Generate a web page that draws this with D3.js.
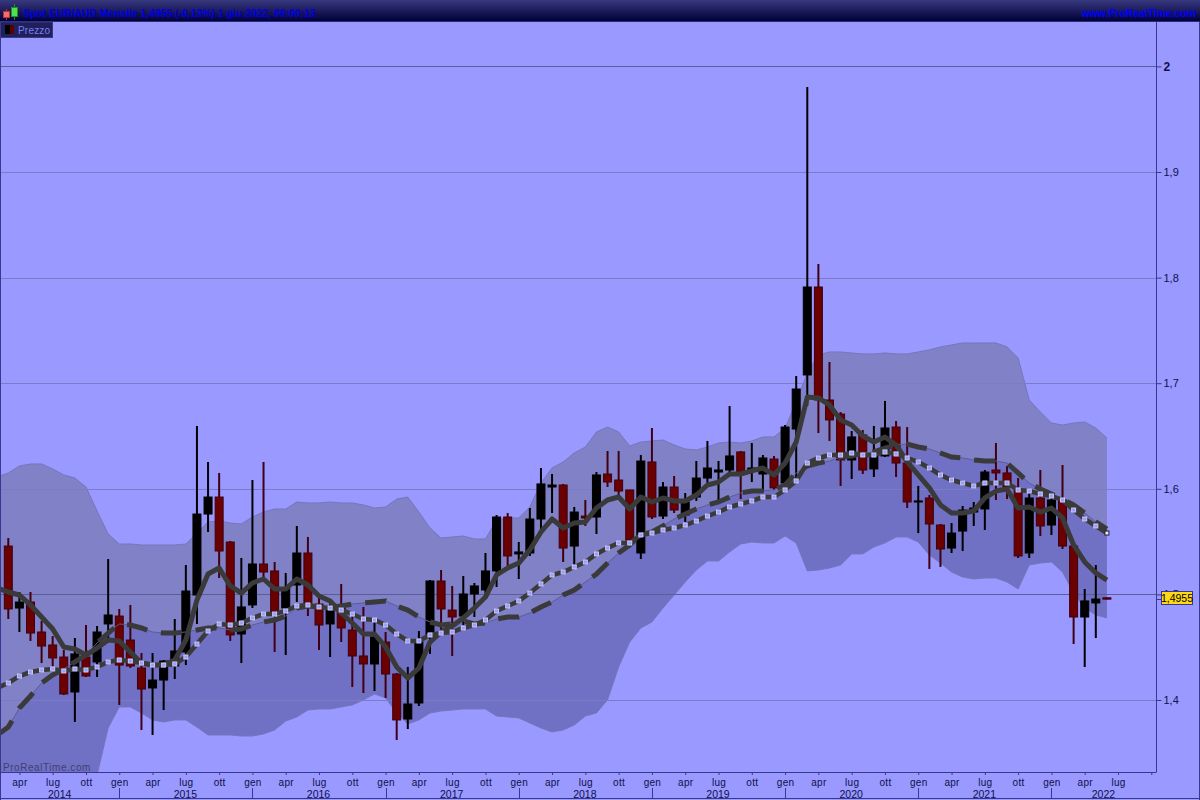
<!DOCTYPE html>
<html lang="en">

<head>
    <meta charset="UTF-8">
    <title>Spot EUR/AUD Mensile</title>
    <style>
        html, body { margin: 0; padding: 0; background: #9999ff; }
        svg { display: block; font-family: "Liberation Sans", Arial, sans-serif; }
    </style>
    <script src="https://cdn.jsdelivr.net/npm/d3@7"></script>
</head>

<body>
    <div id="chart"></div>
    <script>
        // monthly candles, Mar 2014 - Jun 2022
        const open = [1.5458,1.4871,1.4928,1.4644,1.4521,1.4407,1.4076,1.4407,1.4360,1.4720,1.4795,1.4568,1.4303,1.4114,1.4189,1.4322,1.4455,1.4994,1.5761,1.5922,1.5496,1.4625,1.4900,1.5288,1.5222,1.4871,1.5089,1.5392,1.4909,1.4720,1.4871,1.4663,1.4417,1.4341,1.4549,1.4246,1.3820,1.3972,1.4597,1.5127,1.4852,1.4795,1.5004,1.5042,1.5222,1.5733,1.5383,1.5392,1.5714,1.6017,1.6036,1.5458,1.5742,1.5733,1.6140,1.6083,1.5989,1.5392,1.6254,1.5742,1.6017,1.5752,1.5922,1.6102,1.6159,1.6178,1.6349,1.6178,1.6140,1.6282,1.6055,1.6566,1.7078,1.7911,1.6841,1.6708,1.6273,1.6510,1.6188,1.6311,1.6585,1.6244,1.5875,1.5913,1.5657,1.5439,1.5600,1.5780,1.5809,1.6178,1.6150,1.5989,1.5392,1.5913,1.5657,1.5894,1.5458,1.4786,1.4919,1.4968];
        const high = [1.5534,1.5023,1.5023,1.4748,1.4606,1.4474,1.4587,1.4710,1.4701,1.5335,1.4862,1.4900,1.4445,1.4445,1.4379,1.4767,1.5278,1.6595,1.6254,1.6150,1.5506,1.5345,1.6083,1.6254,1.5307,1.5203,1.5648,1.5544,1.4985,1.4909,1.5099,1.4824,1.4881,1.4739,1.4644,1.4256,1.4313,1.4653,1.5136,1.5231,1.5080,1.5174,1.5108,1.5392,1.5752,1.5771,1.5496,1.5818,1.6197,1.6140,1.6046,1.5828,1.5894,1.6159,1.6358,1.6358,1.5989,1.6320,1.6576,1.6064,1.6121,1.5960,1.6263,1.6453,1.6263,1.6784,1.6358,1.6434,1.6320,1.6311,1.6604,1.7068,1.9805,1.8129,1.7201,1.6727,1.6547,1.6557,1.6595,1.6832,1.6642,1.6585,1.6027,1.5941,1.5667,1.5676,1.5837,1.5875,1.6178,1.6434,1.6216,1.6102,1.5979,1.6178,1.5951,1.6225,1.5458,1.5051,1.5278,1.4968];
        const low = [1.4767,1.4644,1.4559,1.4350,1.4313,1.4047,1.3792,1.4218,1.4218,1.4568,1.3953,1.4303,1.3716,1.3669,1.3905,1.4199,1.4331,1.4720,1.5591,1.5155,1.4559,1.4350,1.4871,1.5155,1.4455,1.4426,1.4928,1.4795,1.4474,1.4407,1.4549,1.4123,1.4066,1.4085,1.4019,1.3621,1.3725,1.3943,1.4436,1.4663,1.4417,1.4710,1.4786,1.4994,1.5070,1.5269,1.5146,1.5364,1.5610,1.5771,1.5307,1.5278,1.5648,1.5572,1.6017,1.5922,1.5506,1.5335,1.5714,1.5714,1.5771,1.5686,1.5885,1.6055,1.5885,1.6131,1.5903,1.6064,1.5970,1.5989,1.6008,1.6064,1.6784,1.6528,1.6453,1.6027,1.6093,1.6140,1.6112,1.6301,1.6112,1.5818,1.5581,1.5241,1.5260,1.5392,1.5411,1.5648,1.5610,1.5894,1.5903,1.5345,1.5345,1.5553,1.5563,1.5430,1.4530,1.4313,1.4587,1.4955];
        const close = [1.4862,1.4928,1.4634,1.4511,1.4398,1.4057,1.4436,1.4227,1.4644,1.4805,1.4331,1.4322,1.4104,1.4189,1.4369,1.4464,1.5032,1.5761,1.5922,1.5411,1.4616,1.4881,1.5288,1.5212,1.4833,1.5061,1.5392,1.4900,1.4710,1.4852,1.4682,1.4417,1.4341,1.4597,1.4246,1.3811,1.3962,1.4549,1.5127,1.4862,1.4786,1.5004,1.5080,1.5222,1.5733,1.5364,1.5402,1.5714,1.6046,1.6036,1.5439,1.5780,1.5723,1.6131,1.6064,1.5979,1.5515,1.6263,1.5733,1.6017,1.5799,1.5875,1.6102,1.6197,1.6178,1.6311,1.6159,1.6197,1.6292,1.6008,1.6585,1.6945,1.7911,1.6841,1.6652,1.6273,1.6491,1.6178,1.6320,1.6576,1.6244,1.5875,1.5885,1.5667,1.5430,1.5581,1.5799,1.5818,1.6159,1.6150,1.6017,1.5364,1.5913,1.5648,1.5894,1.5458,1.4786,1.4938,1.4956,1.4955];

        // indicators, Feb 2014 - Jun 2022 (first point sits just off the left edge)
        const fastAvg = [1.5061,1.5023,1.4994,1.4900,1.4786,1.4672,1.4502,1.4483,1.4426,1.4492,1.4568,1.4559,1.4455,1.4350,1.4331,1.4331,1.4379,1.4568,1.4947,1.5193,1.5250,1.5080,1.5013,1.5108,1.5146,1.5051,1.5051,1.5146,1.5089,1.4985,1.4938,1.4824,1.4729,1.4625,1.4625,1.4502,1.4313,1.4208,1.4303,1.4549,1.4644,1.4701,1.4777,1.4871,1.4975,1.5184,1.5250,1.5297,1.5421,1.5591,1.5714,1.5629,1.5676,1.5686,1.5818,1.5894,1.5922,1.5809,1.5922,1.5875,1.5913,1.5885,1.5885,1.5941,1.6036,1.6064,1.6140,1.6140,1.6169,1.6197,1.6131,1.6244,1.6443,1.6869,1.6860,1.6794,1.6652,1.6604,1.6500,1.6443,1.6491,1.6415,1.6254,1.6131,1.6008,1.5847,1.5771,1.5771,1.5790,1.5913,1.5979,1.5998,1.5818,1.5828,1.5780,1.5818,1.5724,1.5468,1.5307,1.5203,1.5136];
        const squareAvg = [1.4114,1.4161,1.4227,1.4265,1.4284,1.4294,1.4275,1.4294,1.4284,1.4313,1.4360,1.4379,1.4369,1.4350,1.4331,1.4331,1.4341,1.4407,1.4530,1.4653,1.4720,1.4710,1.4729,1.4777,1.4814,1.4814,1.4843,1.4890,1.4900,1.4881,1.4871,1.4852,1.4814,1.4767,1.4758,1.4710,1.4625,1.4559,1.4559,1.4616,1.4634,1.4644,1.4682,1.4710,1.4758,1.4843,1.4890,1.4938,1.5013,1.5099,1.5184,1.5212,1.5260,1.5307,1.5383,1.5439,1.5487,1.5487,1.5563,1.5581,1.5610,1.5629,1.5657,1.5695,1.5742,1.5780,1.5828,1.5856,1.5885,1.5922,1.5922,1.5989,1.6074,1.6244,1.6292,1.6320,1.6320,1.6339,1.6320,1.6320,1.6349,1.6330,1.6292,1.6254,1.6197,1.6131,1.6083,1.6055,1.6027,1.6055,1.6055,1.6055,1.5989,1.5979,1.5951,1.5932,1.5894,1.5799,1.5714,1.5648,1.5581];
        const slowAvg = [1.3669,1.3744,1.3924,1.4038,1.4161,1.4237,1.4294,1.4360,1.4426,1.4540,1.4634,1.4720,1.4710,1.4682,1.4644,1.4634,1.4634,1.4644,1.4663,1.4682,1.4682,1.4663,1.4672,1.4710,1.4739,1.4758,1.4795,1.4871,1.4890,1.4881,1.4881,1.4890,1.4909,1.4919,1.4928,1.4938,1.4890,1.4852,1.4786,1.4739,1.4710,1.4720,1.4748,1.4720,1.4729,1.4767,1.4786,1.4786,1.4824,1.4881,1.4928,1.4994,1.5042,1.5117,1.5193,1.5297,1.5392,1.5468,1.5563,1.5591,1.5648,1.5714,1.5761,1.5809,1.5847,1.5875,1.5922,1.5960,1.5979,1.5979,1.5989,1.6036,1.6150,1.6216,1.6244,1.6263,1.6301,1.6311,1.6339,1.6349,1.6386,1.6415,1.6424,1.6396,1.6377,1.6339,1.6301,1.6292,1.6273,1.6263,1.6263,1.6244,1.6150,1.6055,1.5998,1.5951,1.5903,1.5847,1.5771,1.5686,1.5619];
        const upperBand = [1.6112,1.6150,1.6216,1.6235,1.6235,1.6188,1.6131,1.6102,1.6017,1.5790,1.5572,1.5477,1.5477,1.5468,1.5468,1.5468,1.5468,1.5477,1.5581,1.5686,1.5695,1.5676,1.5667,1.5733,1.5780,1.5809,1.5809,1.5875,1.5866,1.5866,1.5875,1.5866,1.5866,1.5847,1.5818,1.5828,1.5903,1.5922,1.5780,1.5629,1.5534,1.5544,1.5553,1.5525,1.5525,1.5705,1.5724,1.5724,1.5828,1.6055,1.6197,1.6254,1.6339,1.6396,1.6538,1.6585,1.6538,1.6405,1.6443,1.6453,1.6462,1.6415,1.6377,1.6368,1.6396,1.6434,1.6443,1.6434,1.6453,1.6491,1.6491,1.6576,1.6822,1.7097,1.7267,1.7296,1.7296,1.7286,1.7277,1.7277,1.7286,1.7277,1.7277,1.7296,1.7315,1.7343,1.7362,1.7381,1.7381,1.7381,1.7381,1.7343,1.7239,1.6841,1.6727,1.6623,1.6604,1.6623,1.6633,1.6576,1.6481];
        const lowerBand = [1.1225,1.1339,1.1632,1.1841,1.2087,1.2286,1.2456,1.2617,1.2835,1.3290,1.3735,1.3934,1.3934,1.3877,1.3811,1.3792,1.3811,1.3811,1.3744,1.3669,1.3669,1.3669,1.3659,1.3659,1.3678,1.3716,1.3801,1.3839,1.3905,1.3915,1.3915,1.3934,1.3953,1.4000,1.4057,1.4019,1.3877,1.3773,1.3811,1.3877,1.3896,1.3905,1.3915,1.3915,1.3915,1.3848,1.3839,1.3830,1.3782,1.3735,1.3697,1.3716,1.3763,1.3848,1.3877,1.4000,1.4313,1.4549,1.4682,1.4739,1.4871,1.4994,1.5117,1.5231,1.5316,1.5316,1.5402,1.5477,1.5496,1.5487,1.5487,1.5553,1.5487,1.5222,1.5231,1.5250,1.5278,1.5383,1.5383,1.5449,1.5487,1.5544,1.5544,1.5496,1.5373,1.5297,1.5212,1.5165,1.5146,1.5155,1.5155,1.5117,1.5051,1.5278,1.5297,1.5307,1.5212,1.5013,1.4871,1.4805,1.4777];

        const priceTicks = [1.4, 1.5, 1.6, 1.7, 1.8, 1.9, 2];
        const monthNames = ['gen', 'feb', 'mar', 'apr', 'mag', 'giu', 'lug', 'ago', 'set', 'ott', 'nov', 'dic'];
        const lastPrice = 1.4955;
        const titleText = 'Spot EUR/AUD Mensile 1,4955 (-0,13%) 1 giu 2022, 00:00:13';

        const BG = '#9999ff';
        const FRAME = '#38388f';
        const INK = '#10104a';
        const LINE = '#3a3a3a';

        const width = 1200;
        const height = 800;
        const plot = { left: 1, top: 22, right: 1156.5, bottom: 772 };

        // Feb 2014 .. Oct 2022, one slot per month
        const months = d3.utcMonth.range(new Date(Date.UTC(2014, 1, 1)), new Date(Date.UTC(2022, 10, 1)));
        const barMonths = months.slice(1, 1 + open.length);

        const x = d3.scalePoint().domain(months).range([-2.8, 1151.3]);
        const y = d3.scaleLinear().domain([1.4, 2]).range([700, 66.4]);

        const svg = d3.select('#chart').append('svg')
            .attr('width', width)
            .attr('height', height);

        const defs = svg.append('defs');
        const grad = defs.append('linearGradient')
            .attr('id', 'head')
            .attr('x1', 0).attr('x2', 0).attr('y1', 0).attr('y2', 1);
        grad.append('stop').attr('offset', '0%').attr('stop-color', '#38387f');
        grad.append('stop').attr('offset', '100%').attr('stop-color', '#00003a');
        defs.append('clipPath').attr('id', 'plot-clip').append('rect')
            .attr('x', plot.left).attr('y', plot.top)
            .attr('width', plot.right - plot.left).attr('height', plot.bottom - plot.top);

        svg.append('rect').attr('width', width).attr('height', height).attr('fill', BG);

        const chart = svg.append('g').attr('clip-path', 'url(#plot-clip)');

        // bands
        const bandArea = (a, b) => d3.area()
            .x((d, i) => x(months[i]))
            .y0((d, i) => y(a[i]))
            .y1((d, i) => y(b[i]))(a);

        chart.append('path').attr('d', bandArea(slowAvg, upperBand)).attr('fill', '#8181c8');
        chart.append('path').attr('d', bandArea(slowAvg, lowerBand)).attr('fill', '#7070c4');

        const indicator = d3.line().x((d, i) => x(months[i])).y(d => y(d));
        chart.append('path').attr('d', indicator(upperBand)).attr('fill', 'none').attr('stroke', '#7676bb').attr('stroke-width', 1);
        chart.append('path').attr('d', indicator(lowerBand)).attr('fill', 'none').attr('stroke', '#7676bb').attr('stroke-width', 1);

        // grid
        chart.selectAll('.grid').data(priceTicks).enter().append('line')
            .attr('class', 'grid')
            .attr('x1', plot.left).attr('x2', plot.right)
            .attr('y1', d => Math.round(y(d)) + 0.5).attr('y2', d => Math.round(y(d)) + 0.5)
            .attr('stroke', d => (d === 2 || d === 1.5) ? '#5c5c96' : '#7c7cc4')
            .attr('stroke-width', 1);

        // candles
        const candle = chart.selectAll('.candle').data(barMonths).enter().append('g').attr('class', 'candle');
        candle.append('line')
            .attr('x1', d => x(d)).attr('x2', d => x(d))
            .attr('y1', (d, i) => y(high[i])).attr('y2', (d, i) => y(low[i]))
            .attr('stroke', (d, i) => close[i] < open[i] ? '#400012' : '#000')
            .attr('stroke-width', 2);
        candle.append('rect')
            .attr('x', d => x(d) - 4)
            .attr('width', 8)
            .attr('y', (d, i) => y(Math.max(open[i], close[i])))
            .attr('height', (d, i) => Math.max(1, y(Math.min(open[i], close[i])) - y(Math.max(open[i], close[i]))))
            .attr('fill', (d, i) => close[i] < open[i] ? '#6a0000' : '#000')
            .attr('stroke', (d, i) => close[i] < open[i] ? '#400012' : '#000')
            .attr('stroke-width', 1);

        // averages
        chart.append('path').attr('d', indicator(slowAvg)).attr('fill', 'none').attr('stroke', '#5c5c96').attr('stroke-width', 1);
        chart.append('path').attr('d', indicator(slowAvg)).attr('fill', 'none')
            .attr('stroke', LINE).attr('stroke-width', 5).attr('stroke-dasharray', '21 14');
        chart.append('path').attr('d', indicator(squareAvg)).attr('fill', 'none')
            .attr('stroke', LINE).attr('stroke-width', 4.5);
        chart.append('path').attr('d', indicator(fastAvg)).attr('fill', 'none')
            .attr('stroke', LINE).attr('stroke-width', 5).attr('stroke-linejoin', 'round');

        chart.selectAll('.sq').data(squareAvg.slice(1)).enter().append('rect')
            .attr('class', 'sq')
            .attr('x', (d, i) => x(months[i + 1]) - 2)
            .attr('y', d => y(d) - 2)
            .attr('width', 4).attr('height', 4)
            .attr('fill', (d, i) => i === squareAvg.length - 2 ? '#e8e8ff' : '#9c9cff')
            .attr('stroke', (d, i) => i === squareAvg.length - 2 ? '#222' : '#c8c8fa')
            .attr('stroke-width', 1);

        chart.append('text')
            .attr('x', 3).attr('y', 770.5)
            .attr('font-size', 10).attr('letter-spacing', 0.55)
            .attr('fill', '#40406f')
            .text('ProRealTime.com');

        // frame
        svg.append('line').attr('x1', 0.5).attr('x2', 0.5).attr('y1', 21).attr('y2', 800).attr('stroke', FRAME);
        svg.append('line').attr('x1', 1199.5).attr('x2', 1199.5).attr('y1', 21).attr('y2', 800).attr('stroke', FRAME);
        svg.append('line').attr('x1', 0).attr('x2', width).attr('y1', 798.5).attr('y2', 798.5).attr('stroke', FRAME);
        svg.append('line').attr('x1', plot.right).attr('x2', plot.right).attr('y1', 21).attr('y2', plot.bottom).attr('stroke', FRAME);
        svg.append('line').attr('x1', 0).attr('x2', plot.right).attr('y1', plot.bottom + 0.5).attr('y2', plot.bottom + 0.5).attr('stroke', FRAME);

        // price axis
        const yAxis = d3.axisRight(y)
            .tickValues(priceTicks)
            .tickSize(5)
            .tickPadding(2)
            .tickFormat(d => String(d).replace('.', ','));
        const yG = svg.append('g')
            .attr('transform', `translate(${plot.right}, 0)`)
            .call(yAxis);
        yG.select('.domain').remove();
        yG.selectAll('line').attr('stroke', FRAME);
        yG.selectAll('text')
            .attr('font-size', d => d === 2 ? 12 : 11)
            .attr('font-family', '"Liberation Sans", Arial, sans-serif')
            .attr('font-weight', d => d === 2 ? 'bold' : 'normal')
            .attr('fill', INK);

        // month axis, the last tick has no label
        const quarters = months.filter(d => d.getUTCMonth() % 3 === 0);
        const xAxis = d3.axisBottom(x)
            .tickValues(quarters)
            .tickSize(3)
            .tickPadding(3.7)
            .tickFormat(d => d === quarters[quarters.length - 1] ? '' : monthNames[d.getUTCMonth()]);
        const xG = svg.append('g')
            .attr('transform', `translate(0, ${plot.bottom})`)
            .call(xAxis);
        xG.select('.domain').remove();
        xG.selectAll('line').attr('stroke', FRAME);
        xG.selectAll('text')
            .attr('font-size', 10)
            .attr('font-family', '"Liberation Sans", Arial, sans-serif')
            .attr('letter-spacing', 0.3)
            .attr('fill', INK);

        // years, each label centred on its stretch of the axis
        const januaries = months.filter(d => d.getUTCMonth() === 0);
        const yearEdges = [plot.left, ...januaries.map(d => x(d)), plot.right];
        svg.selectAll('.year-sep').data(januaries).enter().append('line')
            .attr('class', 'year-sep')
            .attr('x1', d => Math.round(x(d)) + 0.5).attr('x2', d => Math.round(x(d)) + 0.5)
            .attr('y1', 788).attr('y2', 798)
            .attr('stroke', FRAME);
        svg.selectAll('.year').data(d3.range(2014, 2023)).enter().append('text')
            .attr('class', 'year')
            .attr('x', (d, i) => (yearEdges[i] + yearEdges[i + 1]) / 2 - 0.5)
            .attr('y', 797.5)
            .attr('text-anchor', 'middle')
            .attr('font-size', 10.5)
            .attr('fill', INK)
            .text(d => d);

        // last price tag
        svg.append('line')
            .attr('x1', plot.right).attr('x2', plot.right + 6)
            .attr('y1', Math.round(y(lastPrice)) + 0.5).attr('y2', Math.round(y(lastPrice)) + 0.5)
            .attr('stroke', FRAME);
        svg.append('rect')
            .attr('x', 1161.5).attr('y', Math.round(y(lastPrice)) - 7.5)
            .attr('width', 31).attr('height', 13)
            .attr('fill', '#ffd814').attr('stroke', FRAME);
        svg.append('text')
            .attr('x', 1177).attr('y', Math.round(y(lastPrice)) + 3)
            .attr('text-anchor', 'middle')
            .attr('font-size', 10.5)
            .attr('fill', '#000')
            .text(String(lastPrice).replace('.', ','));

        // header bar
        svg.append('rect').attr('width', width).attr('height', 21).attr('fill', 'url(#head)');
        svg.append('line').attr('x1', 0).attr('x2', width).attr('y1', 21.5).attr('y2', 21.5).attr('stroke', '#2a2a78');
        svg.append('line').attr('x1', 6.5).attr('x2', 6.5).attr('y1', 9).attr('y2', 20).attr('stroke', '#c03030');
        svg.append('rect').attr('x', 3.5).attr('y', 11.5).attr('width', 6).attr('height', 6).attr('fill', '#f07070').attr('stroke', '#c03030');
        svg.append('line').attr('x1', 14.5).attr('x2', 14.5).attr('y1', 4).attr('y2', 20).attr('stroke', '#209020');
        svg.append('rect').attr('x', 11.5).attr('y', 7.5).attr('width', 6).attr('height', 9).attr('fill', '#50e050').attr('stroke', '#209020');
        svg.append('text')
            .attr('x', 23).attr('y', 16.5)
            .attr('font-size', 10.4).attr('font-weight', 'bold')
            .attr('fill', '#0000e0')
            .text(titleText);
        svg.append('text')
            .attr('x', 1196).attr('y', 16.5)
            .attr('text-anchor', 'end')
            .attr('font-size', 10.4).attr('font-weight', 'bold')
            .attr('fill', '#0000ff')
            .text('www.ProRealTime.com');

        // legend chip
        svg.append('rect').attr('x', 0.5).attr('y', 22).attr('width', 52).attr('height', 15.5).attr('fill', '#20205c').attr('stroke', '#38388f');
        svg.append('rect').attr('x', 5).attr('y', 25).attr('width', 5).attr('height', 9).attr('fill', '#000');
        svg.append('rect').attr('x', 10).attr('y', 25).attr('width', 4).attr('height', 9).attr('fill', '#5a0000');
        svg.append('text')
            .attr('x', 18).attr('y', 34)
            .attr('font-size', 10).attr('letter-spacing', 0.2)
            .attr('fill', '#7c7cf0')
            .text('Prezzo');
    </script>
</body>

</html>
